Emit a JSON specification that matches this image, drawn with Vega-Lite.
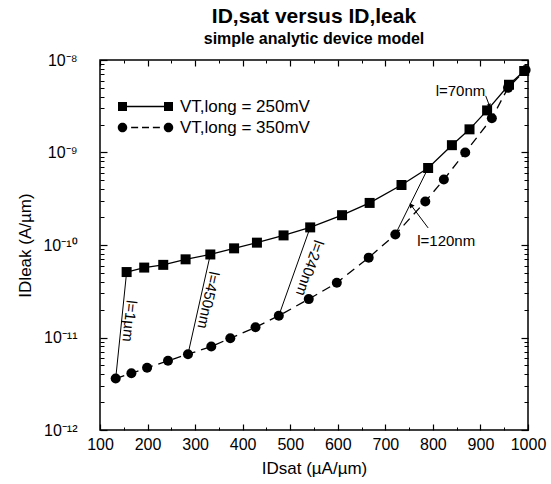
{
  "$schema": "https://vega.github.io/schema/vega-lite/v6.json",
  "width": 428,
  "height": 370,
  "autosize": {"type": "none"},
  "padding": {"left": 100, "top": 60, "right": 23, "bottom": 54},
  "background": "white",
  "config": {
    "font": "Liberation Sans",
    "view": {"stroke": "black", "strokeWidth": 1.5},
    "axis": {"grid": false, "domain": false, "labelFont": "Liberation Sans", "labelColor": "black", "tickColor": "black", "titleColor": "black", "titleFont": "Liberation Sans", "titleFontWeight": "normal"},
    "legend": {"labelFont": "Liberation Sans", "labelColor": "black", "labelFontSize": 17, "symbolSize": 100, "labelOffset": 26, "symbolFillColor": "black", "symbolStrokeWidth": 0, "title": null}
  },
  "title": {
    "text": "ID,sat versus ID,leak",
    "subtitle": "simple analytic device model",
    "font": "Liberation Sans",
    "subtitleFont": "Liberation Sans",
    "fontSize": 21,
    "fontWeight": "bold",
    "subtitleFontSize": 16,
    "subtitleFontWeight": "bold",
    "color": "black",
    "subtitleColor": "black",
    "anchor": "middle",
    "offset": 5,
    "subtitlePadding": 4
  },
  "datasets": {
    "curves": [
      {"VT": "250mV", "Idsat": 156, "Ileak": 5.1e-11},
      {"VT": "250mV", "Idsat": 193, "Ileak": 5.7e-11},
      {"VT": "250mV", "Idsat": 233, "Ileak": 6.1e-11},
      {"VT": "250mV", "Idsat": 280, "Ileak": 7.0e-11},
      {"VT": "250mV", "Idsat": 332, "Ileak": 7.9e-11},
      {"VT": "250mV", "Idsat": 382, "Ileak": 9.2e-11},
      {"VT": "250mV", "Idsat": 430, "Ileak": 1.06e-10},
      {"VT": "250mV", "Idsat": 486, "Ileak": 1.27e-10},
      {"VT": "250mV", "Idsat": 542, "Ileak": 1.55e-10},
      {"VT": "250mV", "Idsat": 609, "Ileak": 2.1e-10},
      {"VT": "250mV", "Idsat": 667, "Ileak": 2.85e-10},
      {"VT": "250mV", "Idsat": 734, "Ileak": 4.45e-10},
      {"VT": "250mV", "Idsat": 790, "Ileak": 6.8e-10},
      {"VT": "250mV", "Idsat": 840, "Ileak": 1.2e-9},
      {"VT": "250mV", "Idsat": 877, "Ileak": 1.78e-9},
      {"VT": "250mV", "Idsat": 914, "Ileak": 2.85e-9},
      {"VT": "250mV", "Idsat": 960, "Ileak": 5.4e-9},
      {"VT": "250mV", "Idsat": 992, "Ileak": 7.6e-9},
      {"VT": "350mV", "Idsat": 133, "Ileak": 3.6e-12},
      {"VT": "350mV", "Idsat": 166, "Ileak": 4.1e-12},
      {"VT": "350mV", "Idsat": 199, "Ileak": 4.7e-12},
      {"VT": "350mV", "Idsat": 243, "Ileak": 5.6e-12},
      {"VT": "350mV", "Idsat": 285, "Ileak": 6.6e-12},
      {"VT": "350mV", "Idsat": 334, "Ileak": 8.0e-12},
      {"VT": "350mV", "Idsat": 374, "Ileak": 9.8e-12},
      {"VT": "350mV", "Idsat": 427, "Ileak": 1.29e-11},
      {"VT": "350mV", "Idsat": 476, "Ileak": 1.72e-11},
      {"VT": "350mV", "Idsat": 539, "Ileak": 2.6e-11},
      {"VT": "350mV", "Idsat": 598, "Ileak": 3.9e-11},
      {"VT": "350mV", "Idsat": 665, "Ileak": 7.3e-11},
      {"VT": "350mV", "Idsat": 721, "Ileak": 1.3e-10},
      {"VT": "350mV", "Idsat": 784, "Ileak": 2.95e-10},
      {"VT": "350mV", "Idsat": 823, "Ileak": 5.1e-10},
      {"VT": "350mV", "Idsat": 868, "Ileak": 1.0e-9},
      {"VT": "350mV", "Idsat": 924, "Ileak": 2.35e-9},
      {"VT": "350mV", "Idsat": 958, "Ileak": 5.0e-9},
      {"VT": "350mV", "Idsat": 995, "Ileak": 7.8e-9}
    ],
    "ties": [
      {"L": "l=1µm", "xs": 156, "ys": 5.1e-11, "xc": 133, "yc": 3.6e-12},
      {"L": "l=450nm", "xs": 332, "ys": 7.9e-11, "xc": 285, "yc": 6.6e-12},
      {"L": "l=240nm", "xs": 542, "ys": 1.55e-10, "xc": 476, "yc": 1.72e-11},
      {"L": "l=120nm", "xs": 790, "ys": 6.8e-10, "xc": 721, "yc": 1.3e-10},
      {"L": "l=70nm", "xs": 914, "ys": 2.85e-9, "xc": 924, "yc": 2.35e-9}
    ],
    "arrows": [
      {"L": "l=120nm", "x0": 790, "y0": 1.53e-10, "x1": 754, "y1": 2.7e-10},
      {"L": "l=70nm", "x0": 911, "y0": 4.1e-9, "x1": 919, "y1": 3.2e-9}
    ]
  },
  "layer": [
    {
      "data": {"name": "curves"},
      "transform": [{"filter": "datum.VT === '250mV'"}],
      "mark": {"type": "line", "color": "black", "strokeWidth": 1.3},
      "encoding": {
        "x": {
          "field": "Idsat", "type": "quantitative",
          "scale": {"domain": [100, 1000], "nice": false, "zero": false},
          "axis": {"orient": "bottom", "values": [100, 200, 300, 400, 500, 600, 700, 800, 900, 1000], "format": "d", "tickSize": -6, "tickWidth": 1.2, "labelFontSize": 16, "labelPadding": 12, "labelFlush": false, "title": "IDsat (µA/µm)", "titleFontSize": 17, "titlePadding": 8}
        },
        "y": {
          "field": "Ileak", "type": "quantitative",
          "scale": {"type": "log", "domain": [1e-12, 1e-8], "nice": false},
          "axis": {"orient": "left", "values": [1e-12, 1e-11, 1e-10, 1e-9, 1e-8], "tickSize": -7, "tickWidth": 1.2, "labelFontSize": 16, "labelPadding": 30, "labelFlush": false,
            "labelExpr": "'10⁻' + (round(-log(datum.value)/LN10) >= 10 ? '¹' + ['⁰','¹','²','³'][round(-log(datum.value)/LN10) - 10] : ['⁰','¹','²','³','⁴','⁵','⁶','⁷','⁸','⁹'][round(-log(datum.value)/LN10)])",
            "title": "IDleak (A/µm)", "titleFontSize": 17, "titlePadding": 8}
        }
      }
    },
    {
      "data": {"name": "curves"},
      "transform": [{"filter": "datum.VT === '350mV'"}],
      "mark": {"type": "line", "color": "black", "strokeWidth": 1.3, "strokeDash": [9, 6]},
      "encoding": {
        "x": {"field": "Idsat", "type": "quantitative", "axis": null},
        "y": {"field": "Ileak", "type": "quantitative", "axis": null}
      }
    },
    {
      "data": {"name": "curves"},
      "transform": [{"filter": "datum.VT === '250mV'"}],
      "mark": {"type": "square", "filled": true, "opacity": 1, "size": 100},
      "encoding": {
        "x": {"field": "Idsat", "type": "quantitative", "axis": {"orient": "top", "values": [100, 200, 300, 400, 500, 600, 700, 800, 900, 1000], "tickSize": -6, "tickWidth": 1.2, "labels": false, "title": null}},
        "y": {"field": "Ileak", "type": "quantitative", "axis": {"orient": "right", "values": [1e-12, 1e-11, 1e-10, 1e-9, 1e-8], "tickSize": -7, "tickWidth": 1.2, "labels": false, "title": null}},
        "color": {
          "field": "VT", "type": "nominal",
          "scale": {"domain": ["250mV"], "range": ["black"]},
          "legend": {
            "orient": "none", "legendX": 37, "legendY": 38,
            "symbolType": "M-5.5,-0.9H-3.7V0.9H-5.5Z M3.7,-0.9H5.5V0.9H3.7Z M-3.7,-0.13H3.7V0.13H-3.7Z",
            "labelExpr": "'VT,long = ' + datum.label"
          }
        }
      }
    },
    {
      "data": {"name": "curves"},
      "transform": [{"filter": "datum.VT === '350mV'"}],
      "mark": {"type": "circle", "opacity": 1, "size": 100},
      "encoding": {
        "x": {"field": "Idsat", "type": "quantitative", "axis": null},
        "y": {"field": "Ileak", "type": "quantitative", "axis": null},
        "color": {
          "field": "VT", "type": "nominal",
          "scale": {"domain": ["350mV"], "range": ["black"]},
          "legend": {
            "orient": "none", "legendX": 37, "legendY": 59,
            "symbolType": "M-5.55,0A0.95,0.95 0 1,0 -3.65,0A0.95,0.95 0 1,0 -5.55,0Z M3.65,0A0.95,0.95 0 1,0 5.55,0A0.95,0.95 0 1,0 3.65,0Z M-2.875,-0.13H-1.475V0.13H-2.875Z M-0.7,-0.13H0.7V0.13H-0.7Z M1.475,-0.13H2.875V0.13H1.475Z",
            "labelExpr": "'VT,long = ' + datum.label"
          }
        }
      }
    },
    {
      "data": {"name": "ties"},
      "mark": {"type": "rule", "color": "black", "strokeWidth": 1},
      "encoding": {
        "x": {"field": "xs", "type": "quantitative", "axis": {"orient": "bottom", "values": [150, 250, 350, 450, 550, 650, 750, 850, 950], "tickSize": -3, "labels": false, "title": null}},
        "y": {"field": "ys", "type": "quantitative", "axis": {"orient": "left", "values": [2e-12, 3e-12, 4e-12, 5e-12, 6e-12, 7e-12, 8e-12, 9e-12, 2e-11, 3e-11, 4e-11, 5e-11, 6e-11, 7e-11, 8e-11, 9e-11, 2e-10, 3e-10, 4e-10, 5e-10, 6e-10, 7e-10, 8e-10, 9e-10, 2e-9, 3e-9, 4e-9, 5e-9, 6e-9, 7e-9, 8e-9, 9e-9], "tickSize": -4, "labels": false, "title": null}},
        "x2": {"field": "xc"},
        "y2": {"field": "yc"}
      }
    },
    {
      "data": {"name": "arrows"},
      "mark": {"type": "rule", "color": "black", "strokeWidth": 1},
      "encoding": {
        "x": {"field": "x0", "type": "quantitative", "axis": {"orient": "top", "values": [150, 250, 350, 450, 550, 650, 750, 850, 950], "tickSize": -3, "labels": false, "title": null}},
        "y": {"field": "y0", "type": "quantitative", "axis": {"orient": "right", "values": [2e-12, 3e-12, 4e-12, 5e-12, 6e-12, 7e-12, 8e-12, 9e-12, 2e-11, 3e-11, 4e-11, 5e-11, 6e-11, 7e-11, 8e-11, 9e-11, 2e-10, 3e-10, 4e-10, 5e-10, 6e-10, 7e-10, 8e-10, 9e-10, 2e-9, 3e-9, 4e-9, 5e-9, 6e-9, 7e-9, 8e-9, 9e-9], "tickSize": -4, "labels": false, "title": null}},
        "x2": {"field": "x1"},
        "y2": {"field": "y1"}
      }
    },
    {
      "data": {"name": "arrows"},
      "transform": [{"filter": "datum.L === 'l=120nm'"}],
      "mark": {"type": "point", "shape": "triangle-up", "filled": true, "color": "black", "opacity": 1, "size": 30, "angle": -34},
      "encoding": {
        "x": {"field": "x1", "type": "quantitative", "axis": null},
        "y": {"field": "y1", "type": "quantitative", "axis": null}
      }
    },
    {
      "data": {"name": "arrows"},
      "transform": [{"filter": "datum.L === 'l=70nm'"}],
      "mark": {"type": "point", "shape": "triangle-up", "filled": true, "color": "black", "opacity": 1, "size": 20, "angle": 158},
      "encoding": {
        "x": {"field": "x1", "type": "quantitative", "axis": null},
        "y": {"field": "y1", "type": "quantitative", "axis": null}
      }
    },
    {
      "data": {"values": [{"L": "l=1µm", "x": 162, "y": 1.51e-11}]},
      "mark": {"type": "text", "angle": 96, "fontSize": 15, "font": "Liberation Sans", "color": "black", "align": "center", "baseline": "middle"},
      "encoding": {"x": {"field": "x", "type": "quantitative", "axis": null}, "y": {"field": "y", "type": "quantitative", "axis": null}, "text": {"field": "L"}}
    },
    {
      "data": {"values": [{"L": "l=450nm", "x": 328, "y": 2.54e-11}]},
      "mark": {"type": "text", "angle": 102, "fontSize": 15, "font": "Liberation Sans", "color": "black", "align": "center", "baseline": "middle"},
      "encoding": {"x": {"field": "x", "type": "quantitative", "axis": null}, "y": {"field": "y", "type": "quantitative", "axis": null}, "text": {"field": "L"}}
    },
    {
      "data": {"values": [{"L": "l=240nm", "x": 541, "y": 5.64e-11}]},
      "mark": {"type": "text", "angle": 109, "fontSize": 15, "font": "Liberation Sans", "color": "black", "align": "center", "baseline": "middle"},
      "encoding": {"x": {"field": "x", "type": "quantitative", "axis": null}, "y": {"field": "y", "type": "quantitative", "axis": null}, "text": {"field": "L"}}
    },
    {
      "data": {"values": [{"L": "l=120nm", "x": 828, "y": 1.1e-10}, {"L": "l=70nm", "x": 858, "y": 4.6e-9}]},
      "mark": {"type": "text", "fontSize": 15, "font": "Liberation Sans", "color": "black", "align": "center", "baseline": "middle"},
      "encoding": {"x": {"field": "x", "type": "quantitative", "axis": null}, "y": {"field": "y", "type": "quantitative", "axis": null}, "text": {"field": "L"}}
    }
  ],
  "resolve": {"axis": {"x": "independent", "y": "independent"}, "scale": {"color": "independent"}}
}
